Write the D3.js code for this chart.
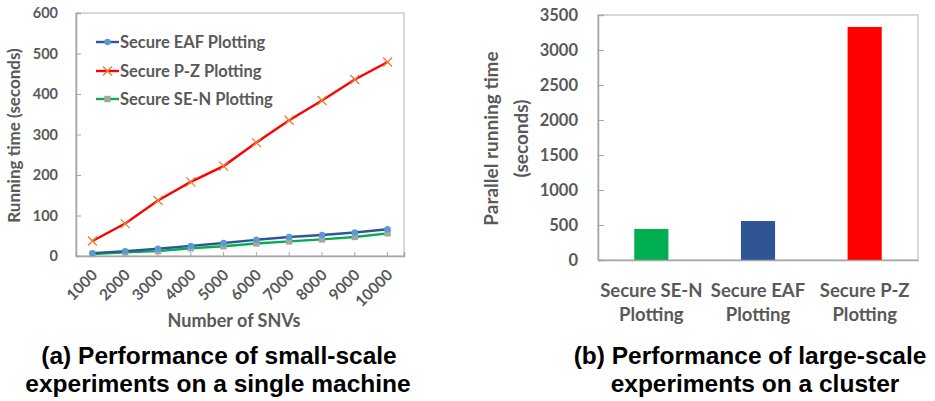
<!DOCTYPE html>
<html>
<head>
<meta charset="utf-8">
<script src="https://cdn.jsdelivr.net/npm/d3@7/dist/d3.min.js"></script>
<style>
  html, body { margin: 0; padding: 0; background: #fff; }
  svg { display: block; }
  .lab { font-family: Lato, "Open Sans", sans-serif; font-weight: bold; fill: #595959; }
  .cap { font-family: "Liberation Sans", Arial, sans-serif; font-weight: bold; fill: #000; }
</style>
</head>
<body>
<svg id="chart" width="935" height="401"></svg>
<script>
// Small-scale run: running time per number of SNVs
const snvCounts = [1000, 2000, 3000, 4000, 5000, 6000, 7000, 8000, 9000, 10000];
const eafTimes  = [7, 12, 18, 25, 32, 40, 47, 52, 58, 66];
const pzTimes   = [37, 80, 137, 183, 222, 280, 335, 384, 436, 479];
const senTimes  = [5, 9, 12, 19, 24, 31, 36, 41, 47, 56];
const lineTicks = [0, 100, 200, 300, 400, 500, 600];

// Large-scale run on the cluster
const barCategories = [["Secure SE-N", "Plotting"], ["Secure EAF", "Plotting"], ["Secure P-Z", "Plotting"]];
const barValues = [443, 557, 3329];
const barTicks = [0, 500, 1000, 1500, 2000, 2500, 3000, 3500];

const svg = d3.select("#chart");
const frameColor = "#bfbfbf";
const axisColor = "#a6a6a6";

// ---------- (a) line chart ----------
const A = { left: 76, right: 404, top: 13, bottom: 256 };
const xA = d3.scaleBand().domain(snvCounts).range([A.left, A.right]);
const yA = d3.scaleLinear().domain([0, 600]).range([A.bottom, A.top]);
const gA = svg.append("g");

gA.append("rect").attr("x", A.left).attr("y", A.top)
  .attr("width", A.right - A.left).attr("height", A.bottom - A.top)
  .attr("fill", "none").attr("stroke", frameColor).attr("stroke-width", 1.2);

const yAxisA = gA.append("g").attr("transform", `translate(${A.left},0)`)
  .call(d3.axisRight(yA).tickValues(lineTicks).tickSize(5).tickFormat(""));
yAxisA.select(".domain").attr("stroke", axisColor).attr("stroke-width", 1.5);
yAxisA.selectAll(".tick line").attr("stroke", axisColor);

gA.selectAll(".ytA").data(lineTicks).join("text")
  .attr("class", "lab").attr("x", A.left - 18).attr("y", d => yA(d) + 5)
  .attr("text-anchor", "end").attr("font-size", 14.5).text(d => d);

const xAxisA = gA.append("g").attr("transform", `translate(0,${A.bottom})`)
  .call(d3.axisTop(xA).tickSize(4).tickFormat(""));
xAxisA.select(".domain").attr("stroke", axisColor).attr("stroke-width", 1.5);
xAxisA.selectAll(".tick line").attr("stroke", axisColor);

gA.selectAll(".xtA").data(snvCounts).join("text")
  .attr("class", "lab").attr("font-size", 15.5)
  .attr("text-anchor", "end")
  .attr("transform", d => `translate(${xA(d) + xA.bandwidth() / 2 + 6},${A.bottom + 20}) rotate(-45)`)
  .text(d => d);

gA.append("text").attr("class", "lab").attr("font-size", 17)
  .attr("text-anchor", "middle")
  .attr("transform", `translate(20,${(A.top + A.bottom) / 2 + 1}) rotate(-90)`)
  .text("Running time (seconds)");

gA.append("text").attr("class", "lab").attr("font-size", 18)
  .attr("x", 234).attr("y", 327).attr("text-anchor", "middle")
  .text("Number of SNVs");

const cx = d => xA(d) + xA.bandwidth() / 2;
const series = [
  { name: "Secure EAF Plotting", values: eafTimes, line: "#2f5597", marker: "circle", mcolor: "#5b9bd5" },
  { name: "Secure P-Z Plotting", values: pzTimes, line: "#ff0000", marker: "x", mcolor: "#ed7d31" },
  { name: "Secure SE-N Plotting", values: senTimes, line: "#00b050", marker: "square", mcolor: "#a5a5a5" }
];

function drawMarker(g, type, color, x, y) {
  if (type === "circle") {
    g.append("circle").attr("cx", x).attr("cy", y).attr("r", 3.2).attr("fill", color);
  } else if (type === "square") {
    g.append("rect").attr("x", x - 3.2).attr("y", y - 3.2).attr("width", 6.4).attr("height", 6.4).attr("fill", color);
  } else {
    const s = 4.5;
    g.append("path").attr("d", `M${x - s},${y - s}L${x + s},${y + s}M${x - s},${y + s}L${x + s},${y - s}`)
      .attr("stroke", color).attr("stroke-width", 1.3).attr("fill", "none");
  }
}

const line = d3.line().x((d, i) => cx(snvCounts[i])).y(d => yA(d));
// green drawn first, then blue, red on top
[series[2], series[0], series[1]].forEach(s => {
  gA.append("path").datum(s.values).attr("d", line)
    .attr("fill", "none").attr("stroke", s.line).attr("stroke-width", 2.4);
  const mg = gA.append("g");
  s.values.forEach((v, i) => drawMarker(mg, s.marker, s.mcolor, cx(snvCounts[i]), yA(v)));
});

// legend
const legY = [42, 71, 99];
series.forEach((s, i) => {
  const lg = gA.append("g");
  lg.append("line").attr("x1", 96).attr("x2", 119).attr("y1", legY[i]).attr("y2", legY[i])
    .attr("stroke", s.line).attr("stroke-width", 2.4);
  drawMarker(lg, s.marker, s.mcolor, 107.5, legY[i]);
  lg.append("text").attr("class", "lab").attr("font-size", 16.5)
    .attr("x", 120).attr("y", legY[i] + 6).text(s.name);
});

gA.append("text").attr("class", "cap").attr("font-size", 24.5)
  .attr("x", 219).attr("y", 364).attr("text-anchor", "middle").text("(a) Performance of small-scale");
gA.append("text").attr("class", "cap").attr("font-size", 24.5)
  .attr("x", 218).attr("y", 392).attr("text-anchor", "middle").text("experiments on a single machine");

// ---------- (b) bar chart ----------
const B = { left: 598, right: 918, top: 15, bottom: 260 };
const xB = d3.scaleBand().domain(d3.range(barValues.length)).range([B.left, B.right]).paddingInner(0.68).paddingOuter(0.34);
const yB = d3.scaleLinear().domain([0, 3500]).range([B.bottom, B.top]);
const barColors = ["#00b050", "#2f5597", "#ff0000"];
const gB = svg.append("g");

gB.append("rect").attr("x", B.left).attr("y", B.top)
  .attr("width", B.right - B.left).attr("height", B.bottom - B.top)
  .attr("fill", "none").attr("stroke", frameColor).attr("stroke-width", 1.2);

gB.selectAll(".bar").data(barValues).join("rect")
  .attr("x", (d, i) => xB(i)).attr("width", xB.bandwidth())
  .attr("y", d => yB(d)).attr("height", d => yB(0) - yB(d))
  .attr("fill", (d, i) => barColors[i]);

const yAxisB = gB.append("g").attr("transform", `translate(${B.left},0)`)
  .call(d3.axisRight(yB).tickValues(barTicks).tickSize(6).tickFormat(""));
yAxisB.select(".domain").attr("stroke", axisColor).attr("stroke-width", 1.5);
yAxisB.selectAll(".tick line").attr("stroke", axisColor);

const xAxisB = gB.append("g").attr("transform", `translate(0,${B.bottom})`)
  .call(d3.axisBottom(xB).tickSize(0).tickFormat(""));
xAxisB.select(".domain").attr("stroke", axisColor).attr("stroke-width", 1.5);

gB.selectAll(".ytB").data(barTicks).join("text")
  .attr("class", "lab").attr("x", B.left - 20).attr("y", d => yB(d) + 6)
  .attr("text-anchor", "end").attr("font-size", 16.5).text(d => d);

barCategories.forEach((c, i) => {
  const t = gB.append("text").attr("class", "lab").attr("font-size", 18.5).attr("text-anchor", "middle");
  c.forEach((ln, k) => t.append("tspan").attr("x", xB(i) + xB.bandwidth() / 2).attr("y", 297 + k * 24).text(ln));
});

const yt = gB.append("text").attr("class", "lab").attr("font-size", 19).attr("text-anchor", "middle")
  .attr("transform", `translate(0,${(B.top + B.bottom) / 2 + 1}) rotate(-90)`);
yt.append("tspan").attr("x", 0).attr("y", 498).text("Parallel running time");
yt.append("tspan").attr("x", 0).attr("y", 528).text("(seconds)");

gB.append("text").attr("class", "cap").attr("font-size", 24.5)
  .attr("x", 750).attr("y", 364).attr("text-anchor", "middle").text("(b) Performance of large-scale");
gB.append("text").attr("class", "cap").attr("font-size", 24.5)
  .attr("x", 755).attr("y", 392).attr("text-anchor", "middle").text("experiments on a cluster");
</script>
</body>
</html>
